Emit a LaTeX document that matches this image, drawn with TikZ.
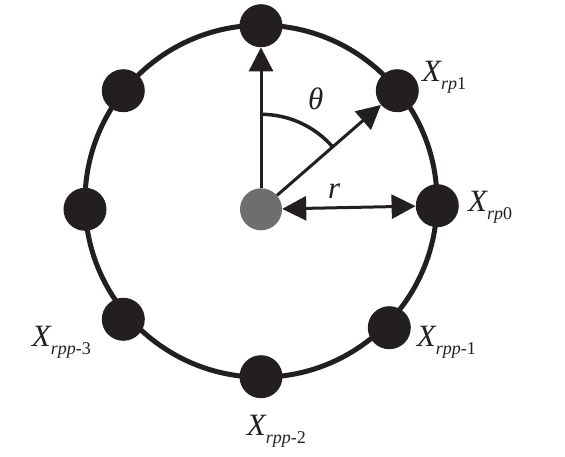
\documentclass[tikz,border=0pt]{standalone}
\usepackage{fontspec}
\setmainfont{Liberation Serif}
\usetikzlibrary{arrows.meta}
\definecolor{ink}{HTML}{231F20}
\definecolor{grayd}{HTML}{6D6E70}
\newcommand{\Xl}[2]{{\fontsize{31}{31}\selectfont\itshape X}\raisebox{-8pt}{\fontsize{18}{18}\selectfont\itshape #1\upshape #2}}
\tikzset{
  dotb/.style={circle,fill=ink,draw=none,minimum size=43pt,inner sep=0pt},
  dotg/.style={circle,fill=grayd,draw=none,minimum size=42pt,inner sep=0pt},
  lab/.style={anchor=base west,inner sep=0pt,text=ink},
  ring/.style={draw=ink,line width=5pt},
  arr/.style={draw=ink,line width=3pt,-{Triangle[length=24pt,width=24pt]}},
  darr/.style={draw=ink,line width=3pt,{Triangle[length=24pt,width=24pt]}-{Triangle[length=24pt,width=24pt]}},
  angarc/.style={draw=ink,line width=3.5pt}
}
\begin{document}
\begin{tikzpicture}[x=1pt,y=1pt]
\useasboundingbox (0,0) rectangle (565,456);
\coordinate (o) at (261,254.8);
\draw[ring] (o) circle (176);
\node[dotb] (top) at (261,430.3) {};
\node[dotb] (p1) at (397.3,365.3) {};
\node[dotb] (p0) at (437.3,250.3) {};
\node[dotb] (m1) at (389.3,128.3) {};
\node[dotb] (m2) at (261,79.3) {};
\node[dotb] (m3) at (123.3,136.7) {};
\node[dotb] (lf) at (85,246.7) {};
\node[dotb] (tl) at (123.3,365.3) {};
\node[dotg] (c) at (261,246.7) {};
\draw[arr] (c) -- (top);
\draw[arr] (c) -- (p1);
\draw[darr] (c) -- (p0);
\draw[angarc] ([shift={(90:95)}]c.center) arc[start angle=90,end angle=41,radius=95];
\node[lab] (th) at (308,346) {\fontsize{31}{31}\selectfont\itshape θ};
\node[lab] (rr) at (328,258) {\fontsize{31}{31}\selectfont\itshape r};
\node[lab] (l1) at (422,374) {\Xl{rp}{1}};
\node[lab] (l0) at (468,244.3) {\Xl{rp}{0}};
\node[lab] (lm1) at (416.7,110) {\Xl{rpp}{-1}};
\node[lab] (lm2) at (246.7,21) {\Xl{rpp}{-2}};
\node[lab] (lm3) at (31.7,109.3) {\Xl{rpp}{-3}};
\end{tikzpicture}
\end{document}
